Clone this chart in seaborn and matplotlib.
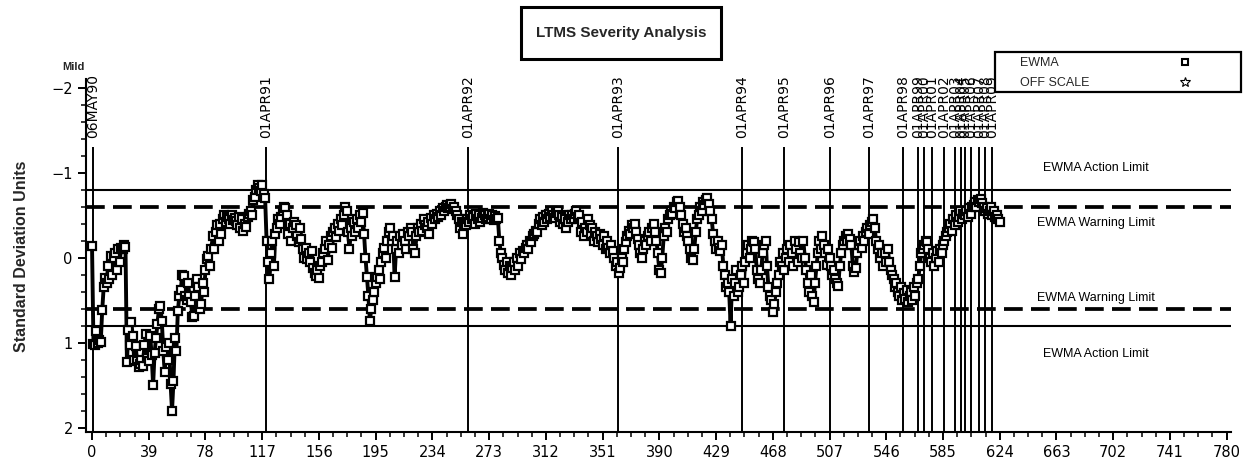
import numpy as np
import pandas as pd
import matplotlib
matplotlib.use("Agg")
import matplotlib.pyplot as plt
from matplotlib.lines import Line2D
from matplotlib.patches import Rectangle
import seaborn as sns

# ---------------- data ----------------
ewma = [
    -0.14, 1.02, 1.03, 0.86, 1.0, 0.97, 0.99, 0.62, 0.35, 0.24,
    0.3, 0.1, 0.25, -0.02, 0.2, 0.0, -0.05, 0.15, -0.1, 0.05,
    -0.12, -0.1, -0.15, -0.13, 1.23, 0.85, 1.03, 0.76, 0.92, 1.2,
    1.04, 1.22, 1.28, 1.25, 1.2, 1.27, 1.03, 0.9, 1.18, 1.22,
    0.92, 1.15, 1.5, 1.12, 0.95, 0.78, 0.6, 0.57, 0.75, 1.1,
    1.35, 1.05, 1.2, 1.0, 1.48, 1.8, 1.45, 0.95, 1.1, 0.63,
    0.45, 0.38, 0.2, 0.22, 0.45, 0.5, 0.3, 0.45, 0.52, 0.7,
    0.68, 0.45, 0.25, 0.35, 0.6, 0.55, 0.3, 0.4, 0.15, 0.02,
    -0.02, 0.1, -0.1, -0.25, -0.1, -0.3, -0.38, -0.2, -0.4, -0.28,
    -0.45, -0.5, -0.42, -0.48, -0.45, -0.4, -0.5, -0.44, -0.47, -0.43,
    -0.38, -0.48, -0.35, -0.45, -0.32, -0.4, -0.36, -0.48, -0.52, -0.55,
    -0.5, -0.68, -0.72, -0.8, -0.86, -0.82, -0.78, -0.85, -0.75, -0.7,
    -0.2, 0.05, 0.25, -0.05, -0.2, 0.1, -0.28, -0.35, -0.45, -0.4,
    -0.48, -0.55, -0.6, -0.58, -0.5, -0.28, -0.4, -0.2, -0.35, -0.42,
    -0.38, -0.25, -0.18, -0.35, -0.22, -0.1, 0.0, -0.12, 0.02, -0.05,
    0.05, -0.08, 0.12, 0.18, 0.22, 0.15, 0.24, 0.1, 0.05, -0.05,
    -0.1, -0.2, 0.03, -0.15, -0.25, -0.12, -0.3, -0.35, -0.24, -0.4,
    -0.32, -0.45, -0.38, -0.5, -0.6, -0.55, -0.3, -0.1, -0.35, -0.25,
    -0.42, -0.3, -0.45, -0.35, -0.5, -0.42, -0.53, -0.28, 0.0, 0.23,
    0.45, 0.74, 0.6, 0.5, 0.4, 0.3, 0.23, 0.15, 0.25, 0.05,
    -0.05, -0.12, 0.0, -0.2, -0.3, -0.35, -0.2, -0.25, 0.23, -0.1,
    -0.2, -0.05, -0.25, -0.15, -0.28, -0.2, -0.1, -0.3, -0.25, -0.35,
    -0.3, -0.1, -0.05, -0.25, -0.35, -0.3, -0.4, -0.32, -0.45, -0.38,
    -0.35, -0.42, -0.28, -0.47, -0.4, -0.5, -0.45, -0.52, -0.48, -0.55,
    -0.5, -0.58, -0.55, -0.6, -0.62, -0.58, -0.6, -0.63, -0.57, -0.6,
    -0.55, -0.5, -0.45, -0.35, -0.42, -0.28, -0.4, -0.38, -0.45, -0.42,
    -0.5, -0.45, -0.48, -0.4, -0.52, -0.46, -0.5, -0.42, -0.47, -0.53,
    -0.5, -0.45, -0.48, -0.52, -0.46, -0.5, -0.44, -0.49, -0.45, -0.47,
    -0.2, -0.05, 0.0, 0.08, 0.15, 0.05, 0.18, 0.1, 0.2, 0.12,
    0.05, 0.15, 0.0, 0.1, -0.05, 0.02, -0.08, -0.05, -0.12, -0.15,
    -0.1, -0.2, -0.18, -0.25, -0.28, -0.32, -0.3, -0.4, -0.45, -0.38,
    -0.48, -0.42, -0.5, -0.45, -0.52, -0.48, -0.55, -0.5, -0.47, -0.53,
    -0.55, -0.5, -0.42, -0.48, -0.4, -0.45, -0.35, -0.42, -0.5, -0.45,
    -0.5, -0.45, -0.52, -0.55, -0.48, -0.5, -0.3, -0.42, -0.25, -0.35,
    -0.3, -0.45, -0.38, -0.28, -0.35, -0.2, -0.3, -0.25, -0.18, -0.28,
    -0.22, -0.15, -0.25, -0.1, -0.2, -0.12, -0.05, -0.15, -0.08, 0.0,
    0.1, 0.05, 0.18, 0.12, 0.0, 0.05, -0.1, -0.18, -0.25, -0.32,
    -0.28, -0.38, -0.35, -0.4, -0.3, -0.22, -0.15, -0.05, 0.0, -0.1,
    -0.2, -0.15, -0.25, -0.3, -0.2, -0.35, -0.4, -0.3, -0.2, -0.05,
    0.15, 0.18, 0.0, -0.25, -0.35, -0.3, -0.45, -0.5, -0.55, -0.52,
    -0.6, -0.58, -0.65, -0.67, -0.6, -0.5, -0.4, -0.3, -0.35, -0.25,
    -0.2, -0.1, 0.0, 0.03, -0.1, -0.3, -0.45, -0.5, -0.6, -0.55,
    -0.65, -0.62, -0.68, -0.7, -0.63, -0.55, -0.45, -0.28, -0.2, -0.1,
    -0.2, -0.12, -0.08, -0.15, 0.1, 0.2, 0.35, 0.3, 0.4, 0.8,
    0.25, 0.45, 0.3, 0.15, 0.4, 0.35, 0.2, 0.1, 0.3, 0.05,
    -0.05, -0.15, 0.0, -0.1, -0.2, -0.18, -0.1, 0.15, 0.25, 0.3,
    0.15, -0.05, -0.15, -0.2, 0.1, 0.35, 0.45, 0.5, 0.64, 0.55,
    0.4, 0.3, 0.2, 0.05, 0.1, -0.05, 0.15, 0.0, -0.1, 0.05,
    -0.15, -0.05, 0.1, -0.2, -0.1, 0.05, -0.18, -0.05, 0.0, -0.2,
    0.0, 0.15, 0.3, 0.4, 0.2, 0.45, 0.52, 0.3, 0.1, -0.05,
    -0.2, -0.1, -0.25, -0.15, -0.05, 0.08, -0.1, 0.0, 0.1, 0.2,
    0.15, 0.25, 0.3, 0.33, 0.1, -0.05, -0.15, -0.2, -0.25, -0.2,
    -0.28, -0.22, -0.15, 0.1, 0.17, 0.12, -0.05, -0.15, -0.2, -0.12,
    -0.25, -0.2, -0.3, -0.35, -0.28, -0.38, -0.42, -0.45, -0.35, -0.2,
    -0.1, -0.15, 0.0, -0.05, 0.1, -0.05, 0.05, -0.1, 0.05, 0.15,
    0.2, 0.25, 0.35, 0.3, 0.4, 0.45, 0.35, 0.5, 0.42, 0.48,
    0.38, 0.52, 0.45, 0.4, 0.5, 0.35, 0.45, 0.3, 0.25, 0.1,
    -0.05, -0.1, -0.15, -0.2, -0.18, -0.1, 0.0, 0.05, -0.05, 0.1,
    0.0, -0.08, 0.05, -0.1, -0.05, -0.15, -0.2, -0.25, -0.3, -0.35,
    -0.4, -0.32, -0.45, -0.38, -0.5, -0.42, -0.48, -0.55, -0.45, -0.52,
    -0.5, -0.55, -0.48, -0.58, -0.52, -0.6, -0.62, -0.65, -0.6, -0.68,
    -0.66, -0.69, -0.64, -0.6, -0.55, -0.58, -0.52, -0.55, -0.6, -0.5,
    -0.55, -0.48, -0.5, -0.45, -0.42,
]
test_number = list(range(len(ewma)))

event_labels = ['06MAY90', '01APR91', '01APR92', '01APR93', '01APR94', '01APR95',
                '01APR96', '01APR97', '01APR98', '01APR99', '01APR00', '01APR01',
                '01APR02', '01APR03', '01APR04', '01APR05', '01APR06', '01APR07',
                '01APR08', '01APR09']
event_pos = [0.7, 119.6, 258.3, 361.4, 446.8, 475.9, 507.1, 534.3, 557.7, 567.6,
             571.7, 577.6, 585.9, 593.4, 597.4, 600.1, 604.0, 609.8, 613.9, 618.5]

action_limit = 0.8
warning_limit = 0.6
limit_labels = ['EWMA Action Limit', 'EWMA Warning Limit', 'EWMA Warning Limit', 'EWMA Action Limit']
limit_label_y = [-1.06, -0.41, 0.47, 1.13]

x_ticks = [0, 39, 78, 117, 156, 195, 234, 273, 312, 351, 390, 429, 468, 507, 546,
           585, 624, 663, 702, 741, 780]
y_ticks = [-2, -1, 0, 1, 2]

# ---------------- style ----------------
sns.set_style("ticks")
plt.rcParams['font.family'] = ['DejaVu Sans']
plt.rcParams['axes.unicode_minus'] = True

fig = plt.figure(figsize=(12.49, 4.66), dpi=100)
ax = fig.add_axes([0.0689, 0.073, 0.9167, 0.757])

df = pd.DataFrame({'test': test_number, 'ewma': ewma})
sns.lineplot(data=df, x='test', y='ewma', ax=ax, color='black', linewidth=2.8,
             marker='s', markersize=5.2, markerfacecolor='white',
             markeredgecolor='black', markeredgewidth=1.6, zorder=3, sort=False)

# limit lines
for v in (-action_limit, action_limit):
    ax.axhline(v, color='black', linewidth=1.5, zorder=2)
for v in (-warning_limit, warning_limit):
    ax.axhline(v, color='black', linewidth=2.7, linestyle=(0, (5.0, 2.2)), zorder=2)

# event lines + labels
for pos, lab in zip(event_pos, event_labels):
    ax.plot([pos, pos], [-1.3, 2.1], color='black', linewidth=1.4, zorder=2,
            solid_capstyle='butt')
    ax.text(pos, -1.41, lab, rotation=90, ha='center', va='bottom',
            fontsize=10, color='black', zorder=4)

for lab, yv in zip(limit_labels, limit_label_y):
    ax.text(690, yv, lab, ha='center', va='center', fontsize=9,
            family='Liberation Sans', color='black')

ax.set_xlim(-4.1, 783)
ax.set_ylim(2.05, -2.1)
ax.set_xticks(x_ticks)
ax.set_xticks([t + d for t in x_ticks[:-1] for d in (9.75, 19.5, 29.25)], minor=True)
ax.set_yticks(y_ticks)
ax.set_yticks([t + d for t in y_ticks[:-1] for d in (0.2, 0.4, 0.6, 0.8)], minor=True)
ax.tick_params(axis='both', which='major', direction='out', length=6, width=1.4,
               labelsize=10.5, colors='black')
ax.tick_params(axis='both', which='minor', direction='out', length=3.5, width=1.3)
ax.set_xlabel('')
ax.set_ylabel('')
for s in ('top', 'right'):
    ax.spines[s].set_visible(False)
for s in ('left', 'bottom'):
    ax.spines[s].set_linewidth(1.5)
    ax.spines[s].set_color('black')

# y-axis label
fig.text(0.017, 0.45, 'Standard Deviation Units', rotation=90, ha='center', va='center',
         fontsize=11.5, fontweight='bold', family='Liberation Sans')
fig.text(0.059, 0.856, 'Mild', ha='center', va='center', fontsize=8,
         fontweight='bold', family='Liberation Sans')

# title box
fig.add_artist(Rectangle((0.417, 0.873), 0.160, 0.112, transform=fig.transFigure,
                         fill=False, edgecolor='black', linewidth=2.2))
fig.text(0.497, 0.929, 'LTMS Severity Analysis', ha='center', va='center',
         fontsize=11, fontweight='bold', family='Liberation Sans')

# legend box
fig.add_artist(Rectangle((0.797, 0.8026), 0.1966, 0.0854, transform=fig.transFigure,
                         fill=False, edgecolor='black', linewidth=1.6))
fig.text(0.817, 0.864, 'EWMA', ha='left', va='center', fontsize=9, family='Liberation Sans')
fig.text(0.817, 0.821, 'OFF SCALE', ha='left', va='center', fontsize=9, family='Liberation Sans')
fig.add_artist(Line2D([0.949], [0.866], transform=fig.transFigure, marker='s',
                      markersize=5, markerfacecolor='white', markeredgecolor='black',
                      markeredgewidth=1.5, linestyle='none'))
fig.add_artist(Line2D([0.949], [0.823], transform=fig.transFigure, marker='*',
                      markersize=7, markerfacecolor='white', markeredgecolor='black',
                      markeredgewidth=0.8, linestyle='none'))

fig.savefig('out.png', dpi=100)
